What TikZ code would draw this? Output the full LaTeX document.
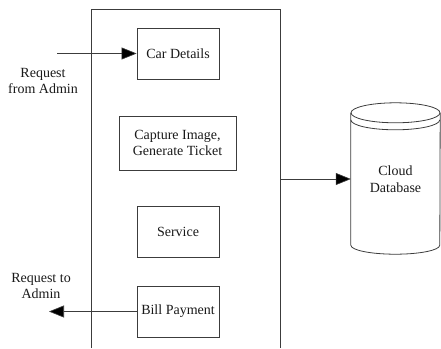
\documentclass[tikz,border=0pt]{standalone}
\usepackage{fontspec}
\setmainfont{Liberation Serif}
\usepackage{tikz}
\usetikzlibrary{arrows.meta,positioning}
\definecolor{lineclr}{RGB}{60,60,60}

\begin{document}
\begin{tikzpicture}[
  x=1pt, y=-1pt,
  every node/.style={font=\fontsize{14}{16.5}\selectfont, align=center, text=black!90},
  stagebox/.style={draw=lineclr, line width=0.8pt, minimum width=82pt, minimum height=51pt, inner sep=2pt},
  flow/.style={draw=lineclr, line width=0.6pt, -{Triangle[length=15pt, width=12pt, fill=black]}}
]
  \useasboundingbox (0,0) rectangle (441,348);
  % outer system box (open at the bottom)
  \draw[lineclr, line width=0.8pt] (91,348) -- (91,9) -- (280,9) -- (280,348);

  \foreach \name/\y/\txt in {cardet/53.5/Car Details, service/231.5/Service, bill/311.5/Bill Payment} {
    \node[stagebox] (\name) at (178, \y) {\txt};
  }
  \node[stagebox, minimum width=117pt, minimum height=54pt] (capture) at (177.5, 143) {Capture Image,\\Generate Ticket};

  % cloud database
  \node[minimum width=89pt, minimum height=132pt, inner sep=0pt] (db) at (395.5, 179) {Cloud\\Database};
  \draw[lineclr, line width=0.8pt] (db.north west) -- (db.south west)
    arc[start angle=180, end angle=360, x radius=44.5pt, y radius=9pt] -- (db.north east);
  \draw[lineclr, line width=0.8pt] (db.north) ellipse[x radius=44.5pt, y radius=10pt];
  \draw[lineclr, line width=0.8pt] ([yshift=-7pt]db.north west)
    arc[start angle=180, end angle=360, x radius=44.5pt, y radius=10pt];

  \coordinate (reqin) at (57, 53.5);
  \coordinate (reqout) at (49, 311.5);
  \coordinate (sysout) at (280, 179);
  \draw[flow] (reqin) -- (cardet.west);
  \draw[flow] (bill.west) -- (reqout);
  \draw[flow] (sysout) -- (db.west);

  \node (lblin) at (43, 81) {Request\\from Admin};
  \node (lblout) at (41, 286) {Request to\\Admin};
\end{tikzpicture}
\end{document}
